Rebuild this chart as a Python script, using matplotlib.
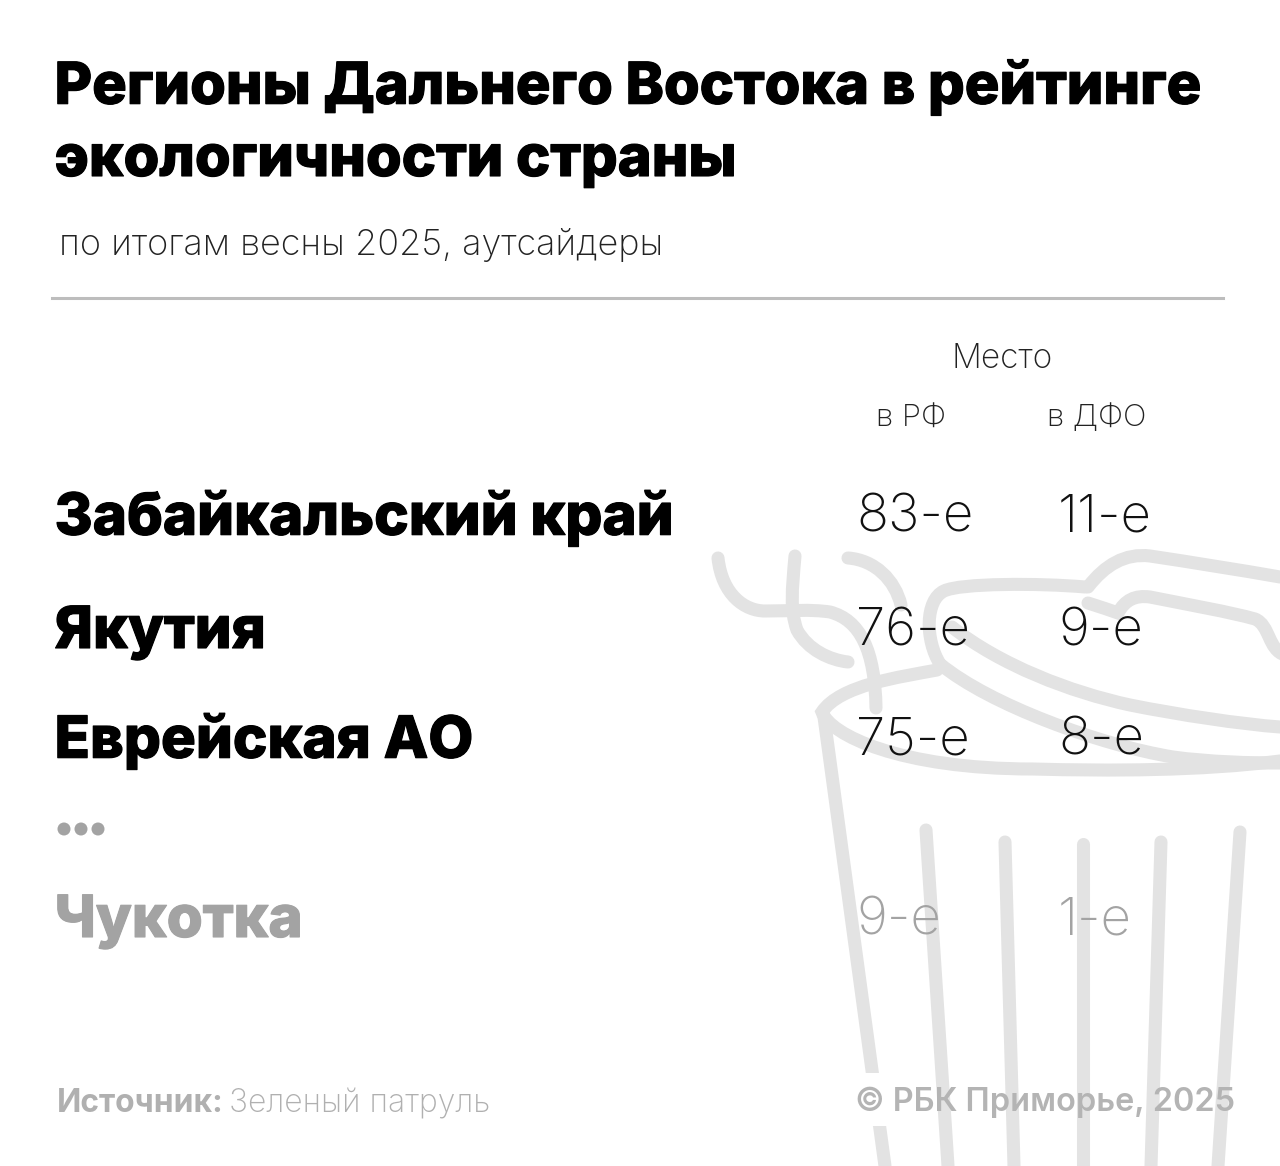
import matplotlib
matplotlib.use('Agg')
import matplotlib.pyplot as plt
import matplotlib.patheffects as pe
from matplotlib.path import Path
from matplotlib.patches import PathPatch, Ellipse, Rectangle

title_lines = ["Регионы Дальнего Востока в рейтинге", "экологичности страны"]
subtitle = "по итогам весны 2025, аутсайдеры"
regions = ["Забайкальский край", "Якутия", "Еврейская АО", "Чукотка"]
rank_rf = ["83-е", "76-е", "75-е", "9-е"]
rank_dfo = ["11-е", "9-е", "8-е", "1-е"]
region_y = [519, 633, 742, 922]
region_col = ["#000000", "#000000", "#000000", "#a3a3a3"]
rank_col = ["#111111", "#111111", "#111111", "#a3a3a3"]

fig = plt.figure(figsize=(12.8, 11.66), dpi=100, facecolor='white')
ax = fig.add_axes([0, 0, 1, 1])
ax.set_xlim(0, 1280); ax.set_ylim(1166, 0); ax.axis('off')
F = 'Inter'
G = '#e3e3e3'
LW = 9.4

def stroke(xs, ys):
    ax.plot(xs, ys, color=G, lw=LW, solid_capstyle='round', zorder=1)

def curve(*pts):
    codes = [Path.MOVETO] + [Path.CURVE4]*(len(pts)-1)
    ax.add_patch(PathPatch(Path(pts, codes), fc='none', ec=G, lw=LW, capstyle='round', zorder=1))

# decorative bin: hooks
curve((718,558),(722,595),(745,611),(765,611),(790,611),(810,609),(830,612),(860,620),(875,650),(876,708))
curve((795,556),(792,590),(790,610),(797,630),(808,650),(830,660),(848,662))
curve((848,558),(875,560),(895,580),(901,605))
# lid
curve((1085,587),(1040,583),(960,583),(944,591),(925,600),(925,640),(940,664),(990,705),(1100,745),(1173,757),(1210,762),(1250,763),(1280,763))
curve((952,627),(1000,665),(1070,692),(1130,705),(1180,715),(1240,724),(1280,727))
# handle
curve((1088,587),(1105,565),(1125,553),(1150,556),(1190,562),(1240,570),(1280,577))
curve((1088,603),(1100,607),(1110,610),(1118,613),(1125,600),(1135,595),(1150,597),(1190,605),(1230,612),(1255,619),(1270,625),(1268,650),(1285,655))
# rim
curve((937,670),(900,677),(840,685),(822,712),(830,735),(900,769),(1033,769),(1110,771),(1200,771),(1280,761))
# body
stroke([824,885],[717,1166])
for x0, y0, x1 in [(926,830,948),(1005,842,1014),(1083,844,1083),(1161,842,1151),(1240,832,1218)]:
    stroke([x0,x1],[y0,1166])
ax.add_patch(Rectangle((855,1073),32,53,fc='white',ec='none',zorder=2))

ax.plot([52,1223],[298,298], color='#bdbdbd', lw=2.2, zorder=2)

for i, line in enumerate(title_lines):
    ax.text(54.5, [88,161][i], line, family=F, fontsize=41.6, fontweight='heavy', va='center', color='black', zorder=3,
            path_effects=[pe.withStroke(linewidth=0.8, foreground='black')])
ax.text(59, 245, subtitle, family=F, fontsize=25.9, fontweight='light', va='center', color='#222222', zorder=3)
ax.text(1002, 359, "Место", family=F, fontsize=24, fontweight='light', ha='center', va='center', color='#222222', zorder=3)
ax.text(911, 419, "в РФ", family=F, fontsize=22.3, fontweight='light', ha='center', va='center', color='#222222', zorder=3)
ax.text(1097, 418, "в ДФО", family=F, fontsize=22.3, fontweight='light', ha='center', va='center', color='#222222', zorder=3)
for i, r in enumerate(regions):
    ax.text(54.5, region_y[i], r, family=F, fontsize=41.9, fontweight='heavy', va='center', color=region_col[i], zorder=3,
            path_effects=[pe.withStroke(linewidth=0.8, foreground=region_col[i])])
    ax.text(856, region_y[i]-1, rank_rf[i], family=F, fontsize=38, fontweight='light', va='center', color=rank_col[i], zorder=3)
    ax.text(1058, region_y[i]-1, rank_dfo[i], family=F, fontsize=38, fontweight='light', va='center', color=rank_col[i], zorder=3)
for x in (64, 81, 98):
    ax.add_patch(Ellipse((x, 829), 13, 13, fc='#a3a3a3', ec='none', zorder=3))
ax.text(57, 1104, "Источник:", family=F, fontsize=22.9, fontweight='bold', va='center', color='#b0b0b0', zorder=3)
ax.text(229, 1104, "Зеленый патруль", family=F, fontsize=23, fontweight='light', va='center', color='#b0b0b0', zorder=3)
ax.text(1235, 1102, "© РБК Приморье, 2025", family=F, fontsize=23.4, fontweight='semibold', ha='right', va='center', color='#b4b4b4', zorder=3)
fig.savefig('out.png', dpi=100, facecolor='white')
